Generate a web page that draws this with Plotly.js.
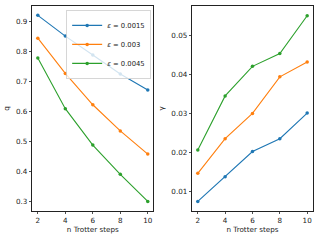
<!DOCTYPE html>
<html><head><meta charset="utf-8">
<script src="https://cdn.plot.ly/plotly-3.0.1.min.js"></script>
<style>html,body{margin:0;padding:0;background:#fff}#c{width:320px;height:240px}</style>
</head><body><div id="c"></div>
<script>
const steps = [2, 4, 6, 8, 10];
const epsLabels = ["<i>ε</i> = 0.0015", "<i>ε</i> = 0.003", "<i>ε</i> = 0.0045"];
const q_e1 = [0.919, 0.850, 0.787, 0.724, 0.671];
const q_e2 = [0.843, 0.726, 0.622, 0.535, 0.458];
const q_e3 = [0.777, 0.609, 0.488, 0.391, 0.301];
const g_e1 = [0.0074, 0.0137, 0.0202, 0.0235, 0.0301];
const g_e2 = [0.0146, 0.0235, 0.0300, 0.0394, 0.0432];
const g_e3 = [0.0206, 0.0345, 0.0421, 0.0454, 0.0551];
const colors = ["#1f77b4", "#ff7f0e", "#2ca02c"];

const qs = [q_e1, q_e2, q_e3];
const gs = [g_e1, g_e2, g_e3];
const traces = [];
qs.forEach((q, i) => traces.push({x: steps, y: q, type: 'scatter', mode: 'lines+markers', name: epsLabels[i],
  line: {color: colors[i], width: 1.1}, marker: {color: colors[i], size: 3.5}, xaxis: 'x', yaxis: 'y'}));
gs.forEach((g, i) => traces.push({x: steps, y: g, type: 'scatter', mode: 'lines+markers', name: epsLabels[i], showlegend: false,
  line: {color: colors[i], width: 1.1}, marker: {color: colors[i], size: 3.5}, xaxis: 'x2', yaxis: 'y2'}));

const ax = {showline: true, mirror: true, linecolor: '#222', linewidth: 1, ticks: 'outside', ticklen: 2.5, tickwidth: 0.8,
  tickcolor: '#222', showgrid: false, zeroline: false, tickfont: {size: 7.2, color: '#222'}};
const fontFam = 'DejaVu Sans, sans-serif';
const layout = {
  width: 320, height: 240, margin: {l: 0, r: 0, t: 0, b: 0}, paper_bgcolor: '#fff', plot_bgcolor: '#fff',
  font: {family: fontFam, size: 7, color: '#222'},
  showlegend: true,
  legend: {x: 0.473, xanchor: 'right', y: 0.958, yanchor: 'top', bgcolor: 'rgba(255,255,255,0.8)', bordercolor: '#ccc', borderwidth: 0.8,
    font: {size: 6.8}, tracegroupgap: 0, itemwidth: 30},
  xaxis: Object.assign({}, ax, {domain: [0.101, 0.479], range: [1.6, 10.4], tickvals: steps, anchor: 'y',
    title: {text: 'n Trotter steps', font: {size: 7.2}, standoff: 2}}),
  yaxis: Object.assign({}, ax, {domain: [0.122, 0.975], range: [0.270, 0.950], dtick: 0.1, tickformat: '.1f', anchor: 'x',
    title: {text: 'q', font: {size: 7.2}, standoff: 5}}),
  xaxis2: Object.assign({}, ax, {domain: [0.601, 0.977], range: [1.6, 10.4], tickvals: steps, anchor: 'y2',
    title: {text: 'n Trotter steps', font: {size: 7.2}, standoff: 2}}),
  yaxis2: Object.assign({}, ax, {domain: [0.122, 0.975], range: [0.0050, 0.0576], dtick: 0.01, tickformat: '.2f', anchor: 'x2',
    title: {text: 'γ', font: {size: 7.2}, standoff: 5}})
};
Plotly.newPlot('c', traces, layout, {staticPlot: true, displayModeBar: false});
</script></body></html>
